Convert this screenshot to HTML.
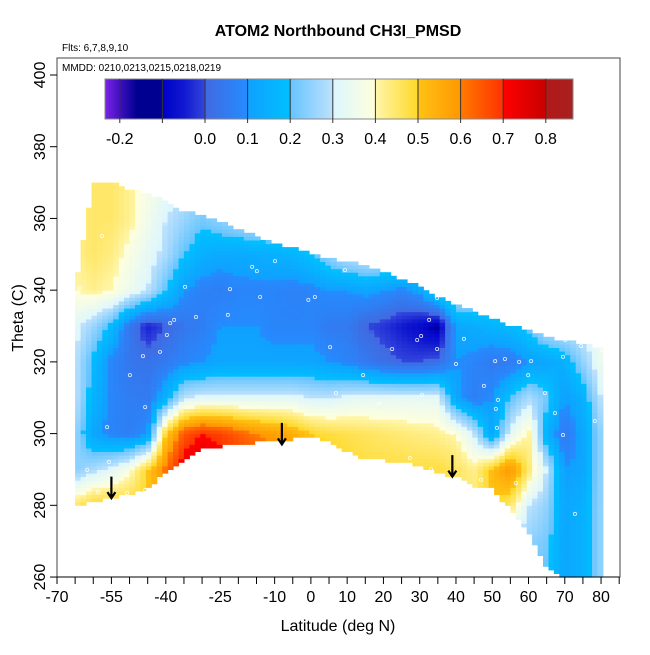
<!DOCTYPE html>
<html><head><meta charset="utf-8">
<style>
body{margin:0;background:#fff;}
svg text{font-family:"Liberation Sans",sans-serif;}
</style></head>
<body>
<svg id="chart" width="650" height="650" xmlns="http://www.w3.org/2000/svg">
  <rect width="650" height="650" fill="#fff"/>
  <text x="338" y="36" text-anchor="middle" font-size="16" font-weight="bold">ATOM2 Northbound CH3I_PMSD</text>
  <text x="62" y="51" font-size="10">Flts: 6,7,8,9,10</text>
  <g id="heat"></g>
  <g id="pts"></g>
  <g id="arrows"></g>
  <rect x="57" y="58" width="563" height="519" fill="none" stroke="#444" stroke-width="1"/>
  <text x="62" y="71" font-size="10">MMDD: 0210,0213,0215,0218,0219</text>
  <g id="cbar"></g>
  <g id="xaxis"></g>
  <g id="yaxis"></g>
  <text x="338" y="631" text-anchor="middle" font-size="16">Latitude (deg N)</text>
  <text x="0" y="0" transform="translate(23,318) rotate(-90)" text-anchor="middle" font-size="16">Theta (C)</text>
</svg>
<script>
const lats=[-65,-60,-55,-50,-45,-40,-35,-30,-25,-20,-15,-10,-5,0,5,10,15,20,25,30,35,40,45,50,55,60,65,70,75,80];
const thetas=[370,360,350,340,330,320,310,300,290,280,270,260];
const v370=[.45,.45,.45,.42,.38,.34,.3,.28,.28,.28,.3,.3,.3,.3,.3,.3,.3,.3,.3,.3,.3,.3,.3,.3,.3,.3,.3,.3,.3,.3];
const v360=[.42,.45,.45,.42,.36,.3,.26,.22,.25,.28,.3,.3,.3,.3,.3,.3,.3,.3,.3,.3,.3,.3,.3,.3,.3,.3,.3,.3,.3,.3];
const v350=[.42,.45,.43,.38,.33,.28,.2,.15,.13,.13,.14,.15,.16,.2,.25,.3,.32,.32,.32,.32,.32,.32,.32,.32,.32,.32,.32,.32,.32,.32];
const v340=[.4,.42,.4,.35,.3,.2,.1,.07,.06,.08,.08,.08,.07,.08,.1,.1,.12,.1,.08,.12,.25,.3,.3,.3,.3,.3,.3,.3,.3,.3];
const v330=[.32,.26,.18,.04,-.04,0,.04,.06,.1,.1,.1,.08,.08,.08,.05,.05,0,-.02,-.05,-.08,-.12,.12,.14,.16,.18,.22,.3,.32,.32,.35];
const v320=[.3,.18,.08,.04,.03,.05,.08,.1,.12,.12,.12,.12,.12,.12,.1,.08,.05,.02,0,0,.02,.1,.08,.05,.05,.1,.12,.15,.25,.35];
const v310=[.3,.16,.08,.06,.05,.15,.3,.32,.32,.32,.32,.32,.32,.3,.3,.32,.33,.33,.33,.33,.33,.12,.06,.1,.2,.28,.22,.1,.15,.3];
const v300=[.26,.12,.08,.06,.1,.5,.65,.7,.68,.64,.6,.58,.55,.5,.48,.47,.46,.45,.44,.43,.42,.4,.3,.12,.32,.42,.15,.05,.12,.25];
const v290=[.24,.28,.32,.38,.5,.62,.75,.78,.74,.7,.68,.66,.62,.58,.55,.5,.48,.48,.48,.48,.48,.46,.42,.52,.6,.45,.3,.1,.12,.25];
const v280=[.45,.5,.5,.5,.5,.55,.6,.62,.62,.6,.6,.6,.55,.55,.5,.5,.48,.48,.45,.45,.45,.45,.45,.5,.45,.3,.25,.12,.15,.25];
const v270=[.45,.5,.5,.5,.5,.5,.5,.5,.5,.5,.5,.5,.5,.5,.5,.5,.45,.45,.45,.45,.4,.4,.35,.3,.28,.25,.22,.12,.15,.25];
const v260=[.45,.5,.5,.5,.5,.5,.5,.5,.5,.5,.5,.5,.5,.5,.5,.5,.45,.45,.45,.45,.4,.4,.35,.3,.25,.22,.2,.12,.15,.25];
const grid=[v370,v360,v350,v340,v330,v320,v310,v300,v290,v280,v270,v260];
const topTheta=[341,370,370,368,367,365,362,361,359,357,355,353,352,350,349,348,347,345,343,341,338,336,334,332,330,329,327,326,325,324];
const botTheta=[280,281,282,283,285,289,293,296,296.5,297,297.5,298,298.5,299,298,295,293,292.5,292,291,289,288,285.5,284.5,279,272,263,260,260,260];
const ptLat=[-57.6,-63.7,-31.7,-37.7,-38.8,-34.7,-39.7,-41.6,-46.3,-49.9,-45.7,-46.0,-56.2,-55.7,-61.7,-45.7,-50.7,-58.7,-22.9,-14.0,-9.9,-16.2,-14.9,-22.3,-0.7,1.1,5.3,6.9,14.4,15.5,9.4,18.8,22.4,29.3,32.6,34.8,30.4,34.8,38.9,50.8,53.5,51.0,51.3,60.7,57.4,59.9,64.5,67.3,69.5,74.5,69.5,72.8,78.3,70.1,80.3,56.5,46.9,33.1,27.3,52.7,47.7,30.6,51.6,40.0,42.2];
const ptTheta=[355.1,340.6,332.5,331.7,330.8,340.9,327.5,322.8,321.6,316.3,307.4,293.5,301.8,292.1,289.9,284.3,283.4,283.7,333.1,338.1,348.1,346.5,345.3,340.3,337.3,338.1,324.1,311.3,316.3,349.8,345.6,308.5,323.6,326.1,331.7,337.8,327.2,323.6,300.2,320.2,320.8,306.9,301.6,320.2,320.0,316.3,311.3,305.7,321.4,324.4,299.6,277.6,303.5,326.1,323.3,286.2,287.1,290.1,293.2,294.3,313.3,310.8,309.4,319.4,326.4];
const arrowLat=[-55,-8,39];
const arrowTheta=[288,303,294];
const xTicks=[-70,-65,-60,-55,-50,-45,-40,-35,-30,-25,-20,-15,-10,-5,0,5,10,15,20,25,30,35,40,45,50,55,60,65,70,75,80,85];
const xLabels=[-70,-55,-40,-25,-10,0,10,20,30,40,50,60,70,80];
const yTicks=[260,280,300,320,340,360,380,400];
const cbTicks=[-0.2,-0.1,0.0,0.1,0.2,0.3,0.4,0.5,0.6,0.7,0.8];
const cbLabels=["-0.2","","0.0","0.1","0.2","0.3","0.4","0.5","0.6","0.7","0.8"];

const NS="http://www.w3.org/2000/svg";
const X=lat=>57+(lat+70)*3.627;
const Y=th=>75+(400-th)*3.586;
const CB=val=>205+val*426;
const stops=[[-0.24,[123,34,232]],[-0.2,[64,16,192]],[-0.16,[0,0,144]],[-0.1001,[0,0,144]],[-0.1,[0,0,200]],[-0.05,[16,24,208]],[-0.0001,[50,70,220]],[0,[65,105,225]],[0.0999,[36,140,255]],[0.1,[16,160,255]],[0.1999,[0,192,255]],[0.2,[100,196,255]],[0.2999,[190,225,252]],[0.3,[220,246,255]],[0.3999,[255,255,220]],[0.4,[255,246,170]],[0.4999,[255,216,40]],[0.5,[255,195,20]],[0.5999,[255,152,0]],[0.6,[255,122,0]],[0.6999,[255,50,0]],[0.7,[255,0,0]],[0.7999,[200,0,0]],[0.8,[178,24,24]],[0.9,[168,32,32]]];
function col(v){
  if(v<=stops[0][0])return `rgb(${stops[0][1]})`;
  for(let i=1;i<stops.length;i++){if(v<=stops[i][0]){const a=stops[i-1],b=stops[i];const t=(v-a[0])/(b[0]-a[0]);return `rgb(${a[1].map((c,k)=>Math.round(c+(b[1][k]-c)*t)).join(',')})`;}}
  return `rgb(${stops[stops.length-1][1]})`;
}
function interp1(arr,lat){const f=(lat-lats[0])/5;const i=Math.max(0,Math.min(lats.length-2,Math.floor(f)));const t=f-i;return arr[i]+(arr[i+1]-arr[i])*t;}
function valAt(lat,th){
  const f=(thetas[0]-th)/10;const j=Math.max(0,Math.min(thetas.length-2,Math.floor(f)));const t=f-j;
  return interp1(grid[j],lat)*(1-t)+interp1(grid[j+1],lat)*t;
}
const heat=document.getElementById('heat');
for(let lat=-65;lat<80.5;lat+=1.5){
  const c=lat+0.75;
  const tp=interp1(topTheta,Math.min(80,Math.max(-65,c))),bt=interp1(botTheta,Math.min(80,Math.max(-65,c)));
  for(let th=260;th<372;th+=1){
    const m=th+0.5;
    if(m>tp||m<bt)continue;
    const r=document.createElementNS(NS,'rect');
    r.setAttribute('x',X(lat).toFixed(1));r.setAttribute('y',Y(th+1).toFixed(1));
    r.setAttribute('width',(1.5*3.627+0.6).toFixed(1));r.setAttribute('height',(3.586+0.5).toFixed(1));
    r.setAttribute('fill',col(valAt(c,m)));
    
    
    heat.appendChild(r);
  }
}
const pts=document.getElementById('pts');
ptLat.forEach((la,i)=>{
  const c=document.createElementNS(NS,'circle');
  c.setAttribute('cx',X(la));c.setAttribute('cy',Y(ptTheta[i]));c.setAttribute('r',1.6);
  c.setAttribute('fill','none');c.setAttribute('stroke','#fff');c.setAttribute('stroke-width','0.8');c.setAttribute('opacity','0.85');
  
  
  pts.appendChild(c);
});
const arrows=document.getElementById('arrows');
arrowLat.forEach((la,i)=>{
  const x=X(la),y0=Y(arrowTheta[i]),y1=Y(arrowTheta[i]-6);
  const p=document.createElementNS(NS,'path');
  p.setAttribute('d',`M${x},${y0}V${y1}M${x-4},${y1-6}L${x},${y1}L${x+4},${y1-6}`);
  p.setAttribute('stroke','#000');p.setAttribute('stroke-width','2.2');p.setAttribute('fill','none');
  
  
  arrows.appendChild(p);
});
const cb=document.getElementById('cbar');
const defs=document.createElementNS(NS,'defs');
const lg=document.createElementNS(NS,'linearGradient');lg.setAttribute('id','cbg');
lg.setAttribute('gradientUnits','userSpaceOnUse');lg.setAttribute('x1',105);lg.setAttribute('x2',573);
stops.forEach(s=>{const st=document.createElementNS(NS,'stop');st.setAttribute('offset',Math.max(0,Math.min(1,(CB(s[0])-105)/468)));st.setAttribute('stop-color',`rgb(${s[1]})`);lg.appendChild(st);});
defs.appendChild(lg);cb.appendChild(defs);
const cr=document.createElementNS(NS,'rect');
cr.setAttribute('x',105);cr.setAttribute('y',79);cr.setAttribute('width',468);cr.setAttribute('height',40);
cr.setAttribute('fill','url(#cbg)');cr.setAttribute('stroke','#888');


cb.appendChild(cr);
cbTicks.forEach((v,i)=>{
  const x=CB(v);
  const l=document.createElementNS(NS,'line');
  l.setAttribute('x1',x);l.setAttribute('x2',x);l.setAttribute('y1',79);l.setAttribute('y2',123);
  l.setAttribute('stroke','#333');l.setAttribute('stroke-width','1');
  
  
  cb.appendChild(l);
  if(cbLabels[i]){
    const t=document.createElementNS(NS,'text');
    t.setAttribute('x',x);t.setAttribute('y',144);t.setAttribute('text-anchor','middle');t.setAttribute('font-size','16');
    t.textContent=cbLabels[i];
    
    
    cb.appendChild(t);
  }
});
const xa=document.getElementById('xaxis');
const al=document.createElementNS(NS,'line');
al.setAttribute('x1',X(-70));al.setAttribute('x2',X(85));al.setAttribute('y1',577);al.setAttribute('y2',577);al.setAttribute('stroke','#000');


xa.appendChild(al);
xTicks.forEach(v=>{
  const l=document.createElementNS(NS,'line');
  l.setAttribute('x1',X(v));l.setAttribute('x2',X(v));l.setAttribute('y1',577);l.setAttribute('y2',584);l.setAttribute('stroke','#000');
  
  
  xa.appendChild(l);
});
xLabels.forEach(v=>{
  const t=document.createElementNS(NS,'text');
  t.setAttribute('x',X(v));t.setAttribute('y',602);t.setAttribute('text-anchor','middle');t.setAttribute('font-size','16');
  t.textContent=v;
  
  
  xa.appendChild(t);
});
const ya=document.getElementById('yaxis');
yTicks.forEach(v=>{
  const l=document.createElementNS(NS,'line');
  l.setAttribute('x1',50);l.setAttribute('x2',57);l.setAttribute('y1',Y(v));l.setAttribute('y2',Y(v));l.setAttribute('stroke','#000');
  
  
  ya.appendChild(l);
  const t=document.createElementNS(NS,'text');
  t.setAttribute('transform',`translate(45,${Y(v)}) rotate(-90)`);t.setAttribute('text-anchor','middle');t.setAttribute('font-size','16');
  t.textContent=v;
  
  
  ya.appendChild(t);
});
</script>
</body></html>
